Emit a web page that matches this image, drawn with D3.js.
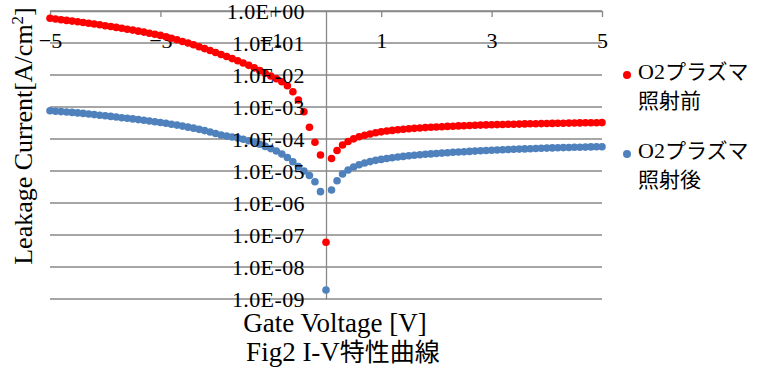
<!DOCTYPE html>
<html>
<head>
<meta charset="utf-8">
<script src="https://cdn.jsdelivr.net/npm/d3@7"></script>
<style>
  body { margin: 0; background: #fff; }
  svg { display: block; }
  text { font-family: "Liberation Serif", "Noto Sans CJK JP", serif; fill: #000; }
  .jp { font-family: "Noto Sans CJK JP", sans-serif; }
  .lat { font-family: "Liberation Serif", serif; }
</style>
</head>
<body>
<div id="chart"></div>
<script>
// gate voltage sweep [V]
var voltage = [-5.0,-4.9,-4.8,-4.7,-4.6,-4.5,-4.4,-4.3,-4.2,-4.1,-4.0,-3.9,-3.8,-3.7,-3.6,-3.5,-3.4,-3.3,-3.2,-3.1,
  -3.0,-2.9,-2.8,-2.7,-2.6,-2.5,-2.4,-2.3,-2.2,-2.1,-2.0,-1.9,-1.8,-1.7,-1.6,-1.5,-1.4,-1.3,-1.2,-1.1,
  -1.0,-0.9,-0.8,-0.7,-0.6,-0.5,-0.4,-0.3,-0.2,-0.1,0.0,0.1,0.2,0.3,0.4,0.5,0.6,0.7,0.8,0.9,
  1.0,1.1,1.2,1.3,1.4,1.5,1.6,1.7,1.8,1.9,2.0,2.1,2.2,2.3,2.4,2.5,2.6,2.7,2.8,2.9,
  3.0,3.1,3.2,3.3,3.4,3.5,3.6,3.7,3.8,3.9,4.0,4.1,4.2,4.3,4.4,4.5,4.6,4.7,4.8,4.9,5.0];

// leakage current [A/cm2], before O2 plasma
var before = [5.91e-1,5.62e-1,5.35e-1,5.08e-1,4.83e-1,4.60e-1,4.37e-1,4.16e-1,3.92e-1,3.70e-1,
  3.47e-1,3.28e-1,3.07e-1,2.88e-1,2.70e-1,2.53e-1,2.35e-1,2.19e-1,2.02e-1,1.87e-1,
  1.73e-1,1.56e-1,1.40e-1,1.26e-1,1.12e-1,1.00e-1,8.79e-2,7.66e-2,6.68e-2,5.83e-2,
  5.05e-2,4.37e-2,3.79e-2,3.26e-2,2.78e-2,2.37e-2,2.00e-2,1.67e-2,1.38e-2,1.14e-2,
  9.31e-3,7.61e-3,6.13e-3,4.63e-3,3.01e-3,1.66e-3,7.13e-4,2.32e-4,7.89e-5,3.16e-5,
  5.91e-8,2.46e-5,4.37e-5,6.49e-5,8.35e-5,1.01e-4,1.17e-4,1.31e-4,1.44e-4,1.56e-4,
  1.67e-4,1.77e-4,1.86e-4,1.94e-4,2.01e-4,2.08e-4,2.15e-4,2.21e-4,2.27e-4,2.32e-4,
  2.37e-4,2.42e-4,2.48e-4,2.51e-4,2.57e-4,2.60e-4,2.64e-4,2.68e-4,2.72e-4,2.76e-4,
  2.78e-4,2.82e-4,2.84e-4,2.88e-4,2.90e-4,2.92e-4,2.96e-4,2.99e-4,3.01e-4,3.03e-4,
  3.05e-4,3.07e-4,3.09e-4,3.12e-4,3.14e-4,3.16e-4,3.19e-4,3.21e-4,3.22e-4,3.23e-4,3.26e-4];

// leakage current [A/cm2], after O2 plasma
var after = [7.66e-4,7.39e-4,7.18e-4,6.98e-4,6.78e-4,6.54e-4,6.31e-4,6.04e-4,5.79e-4,5.54e-4,
  5.31e-4,5.08e-4,4.87e-4,4.63e-4,4.44e-4,4.25e-4,4.04e-4,3.84e-4,3.65e-4,3.47e-4,
  3.28e-4,3.09e-4,2.90e-4,2.72e-4,2.53e-4,2.35e-4,2.18e-4,2.00e-4,1.83e-4,1.66e-4,
  1.49e-4,1.33e-4,1.23e-4,1.15e-4,1.07e-4,9.86e-5,8.85e-5,7.83e-5,6.83e-5,5.87e-5,
  5.01e-5,4.22e-5,3.40e-5,2.64e-5,1.94e-5,1.38e-5,1.00e-5,7.23e-6,4.63e-6,2.26e-6,
  1.91e-9,2.55e-6,4.97e-6,8.06e-6,1.07e-5,1.33e-5,1.56e-5,1.78e-5,1.97e-5,2.15e-5,
  2.30e-5,2.46e-5,2.60e-5,2.74e-5,2.86e-5,2.99e-5,3.09e-5,3.21e-5,3.33e-5,3.42e-5,
  3.52e-5,3.63e-5,3.73e-5,3.84e-5,3.92e-5,4.01e-5,4.10e-5,4.19e-5,4.28e-5,4.37e-5,
  4.47e-5,4.53e-5,4.63e-5,4.70e-5,4.77e-5,4.83e-5,4.90e-5,4.98e-5,5.05e-5,5.12e-5,
  5.20e-5,5.27e-5,5.31e-5,5.39e-5,5.43e-5,5.50e-5,5.54e-5,5.58e-5,5.67e-5,5.71e-5,5.75e-5];

// legend label pieces: [latin, kana, second line]
var seriesNames = [["O2", "プラズマ", "照射前"], ["O2", "プラズマ", "照射後"]];
var seriesColours = ["#ff0000", "#4f81bd"];
var xTicks = [-5, -3, -1, 1, 3, 5];
var yTicks = [1e0, 1e-1, 1e-2, 1e-3, 1e-4, 1e-5, 1e-6, 1e-7, 1e-8, 1e-9];

var width = 763, height = 367;
var gridColour = "#888888";

var svg = d3.select("#chart")
  .append("svg")
  .attr("width", width)
  .attr("height", height);

var x = d3.scaleLinear().domain([-5, 5]).range([50, 602]);
var y = d3.scaleLog().domain([1e-9, 1]).range([299, 11]);

function sci(d) {
  var e = Math.round(Math.log10(d));
  return "1.0E" + (e < 0 ? "-" : "+") + String(Math.abs(e)).padStart(2, "0");
}

// horizontal gridlines
svg.append("g")
  .selectAll("line")
  .data(yTicks)
  .enter()
  .append("line")
  .attr("x1", x(-5))
  .attr("x2", x(5))
  .attr("y1", function(d) { return y(d); })
  .attr("y2", function(d) { return y(d); })
  .style("stroke", gridColour)
  .style("stroke-width", 1.3);

// x axis sits on the top line
var xAxis = svg.append("g")
  .attr("transform", "translate(0," + y(1) + ")")
  .call(d3.axisBottom(x).tickValues(xTicks).tickFormat(d3.format("d"))
    .tickSizeInner(6).tickSizeOuter(0).tickPadding(15));
xAxis.selectAll("path, line").style("stroke", gridColour).style("stroke-width", 1.3);
xAxis.selectAll("text").style("font-size", "22px").style("font-family", null);

// y axis line at V = 0
var yLine = svg.append("g")
  .attr("transform", "translate(" + x(0) + ",0)")
  .call(d3.axisLeft(y).tickValues([]).tickSizeOuter(0));
yLine.select("path").style("stroke", gridColour).style("stroke-width", 1.3);

// points
var groups = [before, after];
groups.forEach(function(vals, i) {
  svg.append("g")
    .selectAll("circle")
    .data(vals)
    .enter()
    .append("circle")
    .attr("cx", function(d, j) { return x(voltage[j]); })
    .attr("cy", function(d) { return y(d); })
    .attr("r", 3.8)
    .style("fill", seriesColours[i]);
});

// y tick labels on top
var yAxis = svg.append("g")
  .attr("transform", "translate(" + x(0) + ",0)")
  .call(d3.axisLeft(y).tickValues(yTicks).tickFormat(sci).tickSize(0).tickPadding(21));
yAxis.select("path").remove();
yAxis.selectAll("text")
  .style("font-size", "22px")
  .style("font-family", null)
  .style("letter-spacing", "0.4px");

// axis titles
svg.append("text")
  .attr("x", 335)
  .attr("y", 332)
  .attr("text-anchor", "middle")
  .style("font-size", "27px")
  .text("Gate Voltage [V]");

var yTitle = svg.append("text")
  .attr("transform", "translate(32,136) rotate(-90)")
  .attr("text-anchor", "middle")
  .style("font-size", "26px");
yTitle.append("tspan").text("Leakage Current[A/cm");
yTitle.append("tspan").attr("dy", -9).style("font-size", "17px").text("2");
yTitle.append("tspan").attr("dy", 9).text("]");

// chart title
var title = svg.append("text")
  .attr("x", 343)
  .attr("y", 361)
  .attr("text-anchor", "middle")
  .style("font-size", "27px");
title.append("tspan").attr("class", "lat").text("Fig2 I-V");
title.append("tspan").attr("class", "jp").style("font-size", "25px").text("特性曲線");

// legend
var legend = svg.append("g").attr("transform", "translate(627,75)");
seriesNames.forEach(function(lines, i) {
  var g = legend.append("g").attr("transform", "translate(0," + (i * 79) + ")");
  g.append("circle").attr("r", 4).style("fill", seriesColours[i]);
  var t = g.append("text").attr("x", 11).attr("y", 4).style("font-size", "21px");
  t.append("tspan").attr("class", "lat").style("font-size", "22px").text(lines[0]);
  t.append("tspan").attr("class", "jp").text(lines[1]);
  g.append("text").attr("class", "jp").attr("x", 11).attr("y", 33)
    .style("font-size", "21px").text(lines[2]);
});
</script>
</body>
</html>
